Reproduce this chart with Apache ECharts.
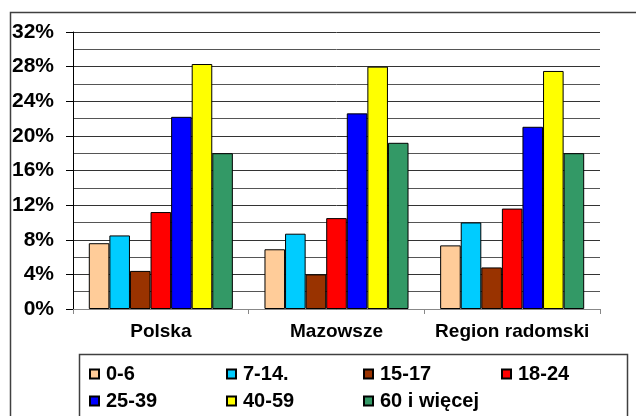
<!DOCTYPE html>
<html>
<head>
<meta charset="utf-8">
<script src="https://cdn.jsdelivr.net/npm/echarts@6/dist/echarts.min.js"></script>
<style>html,body{margin:0;padding:0;background:#fff}#c{width:636px;height:416px}</style>
</head>
<body>
<div id="c"></div>
<script>
const categories = ['Polska', 'Mazowsze', 'Region radomski'];
const groupNames = ['0-6', '7-14.', '15-17', '18-24', '25-39', '40-59', '60 i więcej'];
const v0_6 = [7.6, 6.9, 7.35];
const v7_14 = [8.5, 8.7, 10.0];
const v15_17 = [4.4, 4.0, 4.8];
const v18_24 = [11.2, 10.5, 11.6];
const v25_39 = [22.2, 22.6, 21.05];
const v40_59 = [28.3, 28.0, 27.5];
const v60plus = [18.0, 19.2, 18.0];
const yTicks = [0, 4, 8, 12, 16, 20, 24, 28, 32];

const seriesValues = [v0_6, v7_14, v15_17, v18_24, v25_39, v40_59, v60plus];
const colors = ['#FFCC99', '#00CCFF', '#993300', '#FF0000', '#0000FF', '#FFFF00', '#339966'];
const font = 'Arial, "Liberation Sans", sans-serif';

const legendPos = [
  [89, 364], [226, 364], [363, 364], [501, 364],
  [89, 391], [226, 391], [363, 391]
];

const chart = echarts.init(document.getElementById('c'), null, {renderer: 'canvas'});
chart.setOption({
  animation: false,
  backgroundColor: '#fff',
  grid: {left: 73, right: 36, top: 32, bottom: 107, containLabel: false},
  xAxis: {
    type: 'category',
    data: categories,
    axisLine: {show: true, lineStyle: {color: '#888', width: 1}},
    axisTick: {show: true, length: 5, lineStyle: {color: '#888'}},
    axisLabel: {interval: 0, color: '#000', fontFamily: font, fontWeight: 'bold', fontSize: 19, margin: 13},
    splitLine: {show: false}
  },
  yAxis: {
    type: 'value',
    min: yTicks[0],
    max: yTicks[yTicks.length - 1],
    interval: yTicks[1] - yTicks[0],
    axisLine: {show: true, lineStyle: {color: '#000', width: 1}},
    axisTick: {show: true, length: 7, lineStyle: {color: '#000'}},
    axisLabel: {color: '#000', fontFamily: font, fontWeight: 'bold', fontSize: 21, margin: 19, formatter: '{value}%'},
    splitLine: {show: true, lineStyle: {color: '#333', width: 1}},
    minorTick: {show: false, splitNumber: 2},
    minorSplitLine: {show: true, lineStyle: {color: '#555', width: 1}}
  },
  legend: groupNames.map((name, i) => ({
    data: [name],
    left: legendPos[i][0],
    top: legendPos[i][1],
    padding: 0,
    itemWidth: 9,
    itemHeight: 9,
    icon: 'rect',
    selectedMode: false,
    textStyle: {color: '#000', fontFamily: font, fontWeight: 'bold', fontSize: 20, padding: [0, 0, 0, 2]}
  })),
  graphic: [
    {type: 'polyline', shape: {points: [[10.5, 416], [10.5, 12.5], [636, 12.5]]}, style: {stroke: '#404040', lineWidth: 1.5, fill: null}, silent: true},
    {type: 'rect', shape: {x: 79.5, y: 354.5, width: 548, height: 80}, style: {stroke: '#404040', lineWidth: 1.5, fill: null}, silent: true}
  ],
  series: seriesValues.map((vals, i) => ({
    name: groupNames[i],
    type: 'bar',
    data: vals,
    barGap: '0%',
    barCategoryGap: '18%',
    itemStyle: {color: colors[i], borderColor: '#000', borderWidth: 1}
  }))
});
</script>
</body>
</html>
